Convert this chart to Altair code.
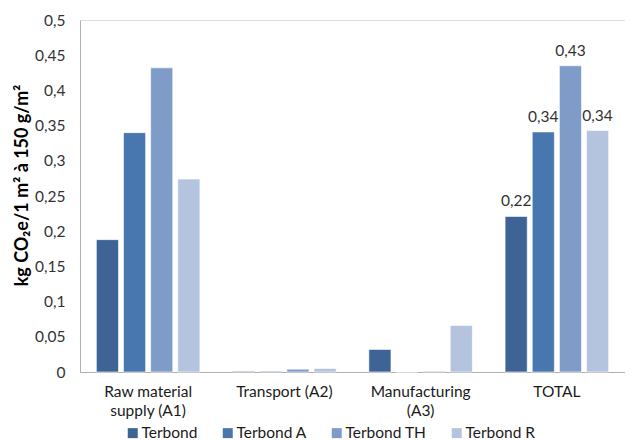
import altair as alt
import pandas as pd

categories = ["Raw material\nsupply (A1)", "Transport (A2)", "Manufacturing\n(A3)", "TOTAL"]
series = ["Terbond", "Terbond A", "Terbond TH", "Terbond R"]
colors = ["#3D6495", "#4877AF", "#7F9CC8", "#B4C4DF"]

values = {
    "Terbond":    [0.188, 0.001, 0.032, 0.221],
    "Terbond A":  [0.340, 0.001, 0.000, 0.341],
    "Terbond TH": [0.432, 0.004, 0.001, 0.435],
    "Terbond R":  [0.274, 0.005, 0.066, 0.343],
}
total_labels = ["0,22", "0,34", "0,43", "0,34"]
tick_values = [0, 0.05, 0.1, 0.15, 0.2, 0.25, 0.3, 0.35, 0.4, 0.45, 0.5]

rows = []
for s in series:
    for c, v in zip(categories, values[s]):
        rows.append({"cat": c, "series": s, "value": v})
df = pd.DataFrame(rows)
lab = pd.DataFrame({"cat": ["TOTAL"] * 4, "series": series,
                    "value": [values[s][3] for s in series],
                    "label": total_labels})

FONT = "Lato"
x = alt.X("cat:N", sort=categories, title=None,
          scale=alt.Scale(paddingInner=0.24, paddingOuter=0.12),
          axis=alt.Axis(labelExpr="split(datum.label, '\\n')", labelAngle=0, ticks=False,
                        labelPadding=12, labelFontSize=15.5, labelColor="#1a1a1a",
                        labelLineHeight=19, domainColor="#b0b0b0", labelFont=FONT))
xo = alt.XOffset("series:N", sort=series, scale=alt.Scale(paddingInner=0.185))
y = alt.Y("value:Q", scale=alt.Scale(domain=[0, 0.5], nice=False),
          title="kg CO₂e/1 m² à 150 g/m²",
          axis=alt.Axis(values=tick_values, grid=False, ticks=False,
                        labelOverlap=False, labelSeparation=0, labelBound=False,
                        format=".2~f",
                        labelExpr="replace(datum.label, '.', ',')",
                        labelPadding=15, labelFontSize=15.5, labelColor="#333333",
                        domainColor="#b0b0b0", labelFont=FONT,
                        titleFont=FONT, titleFontSize=18, titleFontWeight="bold",
                        titleColor="#000000", titleX=-49, titleY=165))
color = alt.Color("series:N", sort=series, scale=alt.Scale(domain=series, range=colors),
                  legend=alt.Legend(title=None, orient="none", direction="horizontal",
                                    legendX=45, legendY=405, symbolType="square",
                                    symbolSize=100, symbolStrokeWidth=0, columnPadding=22,
                                    labelFontSize=15.5, labelFont=FONT, labelColor="#1a1a1a",
                                    labelOffset=1))

bars = alt.Chart(df).mark_bar(stroke="#ffffff", strokeWidth=0.6).encode(
    x=x, xOffset=xo, y=y, color=color)
texts = alt.Chart(lab).mark_text(baseline="bottom", dy=-7, fontSize=15.5, font=FONT,
                                 color="#333333").encode(
    x=x, xOffset=xo, y=y, text="label:N")

chart = alt.layer(bars, texts).properties(
    width=545, height=352,
    autosize=alt.AutoSizeParams(type="none"),
    padding={"left": 72, "top": 12, "right": 0, "bottom": 72},
).configure_view(stroke=None).configure(background="white")

chart.save("out.html", embed_options={"renderer": "svg", "actions": False})
